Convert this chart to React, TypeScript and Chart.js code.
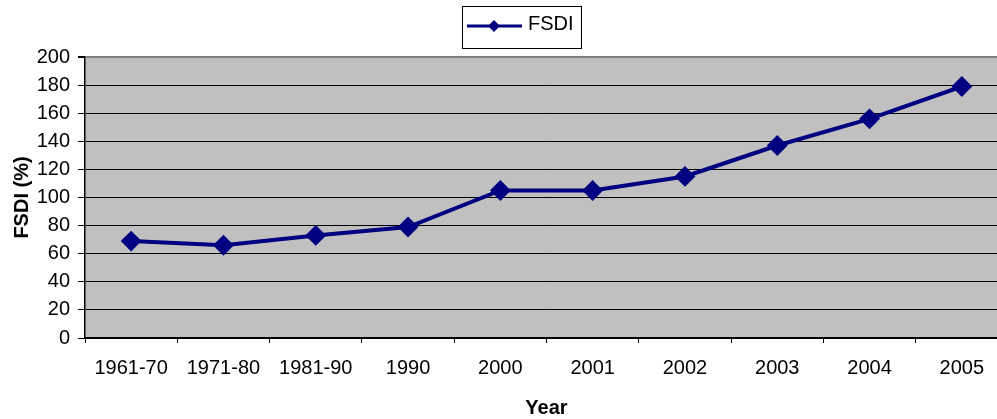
import React, { useEffect, useRef } from "react";
import { Chart, registerables } from "chart.js";

Chart.register(...registerables);

const categories = ["1961-70", "1971-80", "1981-90", "1990", "2000", "2001", "2002", "2003", "2004", "2005"];
const fsdiValues = [69, 66, 73, 79, 105, 105, 115, 137, 156, 179];
const seriesLabel = "FSDI";
const yTicks = { min: 0, max: 200, step: 20 };
const xTitle = "Year";
const yTitle = "FSDI (%)";

const FONT = "'Liberation Sans', Arial, sans-serif";
const NAVY = "#000080";

const bgPlugin = {
  id: "plotBg",
  beforeDraw(chart: any) {
    const { ctx, chartArea } = chart;
    ctx.save();
    ctx.fillStyle = "#C0C0C0";
    ctx.fillRect(chartArea.left, chartArea.top, chartArea.right - chartArea.left, chartArea.bottom - chartArea.top);
    ctx.restore();
  },
};

const legendPlugin = {
  id: "boxLegend",
  afterDraw(chart: any) {
    const { ctx } = chart;
    const ds = chart.data.datasets[0];
    ctx.save();
    const bx = 462.5, by = 6.5, bw = 119, bh = 42;
    ctx.fillStyle = "#fff";
    ctx.fillRect(bx, by, bw, bh);
    ctx.strokeStyle = "#000";
    ctx.lineWidth = 1;
    ctx.strokeRect(bx, by, bw, bh);
    const ly = 26;
    ctx.strokeStyle = ds.borderColor;
    ctx.lineWidth = 3;
    ctx.beginPath();
    ctx.moveTo(467, ly);
    ctx.lineTo(522, ly);
    ctx.stroke();
    ctx.fillStyle = ds.borderColor;
    const r = 6;
    const cx = 494;
    ctx.beginPath();
    ctx.moveTo(cx - r, ly);
    ctx.lineTo(cx, ly - r);
    ctx.lineTo(cx + r, ly);
    ctx.lineTo(cx, ly + r);
    ctx.closePath();
    ctx.fill();
    ctx.fillStyle = "#000";
    ctx.font = `20px ${FONT}`;
    ctx.textBaseline = "middle";
    ctx.textAlign = "left";
    ctx.fillText(ds.label, 528, 24);
    ctx.restore();
  },
};

export default function App() {
  const ref = useRef<HTMLCanvasElement>(null);
  useEffect(() => {
    if (!ref.current) return;
    const chart = new Chart(ref.current, {
      type: "line",
      data: {
        labels: categories,
        datasets: [
          {
            label: seriesLabel,
            data: fsdiValues,
            borderColor: NAVY,
            backgroundColor: NAVY,
            borderWidth: 4,
            pointStyle: "rectRot",
            pointRadius: 9,
            pointBorderWidth: 2,
            pointBorderColor: NAVY,
            pointBackgroundColor: NAVY,
            tension: 0,
          },
        ],
      },
      options: {
        responsive: false,
        animation: false,
        devicePixelRatio: 1,
        layout: { padding: { top: 57, left: 0, right: 0, bottom: 0 } },
        plugins: {
          legend: { display: false },
          tooltip: { enabled: false },
        },
        scales: {
          x: {
            type: "category",
            offset: true,
            afterFit(scale: any) {
              scale.height = 81;
            },
            grid: {
              offset: true,
              drawOnChartArea: false,
              drawTicks: true,
              tickLength: 5,
              tickColor: "#000",
            },
            border: { display: true, color: "#000", width: 1.5 },
            ticks: {
              color: "#000",
              font: { family: FONT, size: 20 },
              padding: 13,
              maxRotation: 0,
              autoSkip: false,
            },
            title: {
              display: true,
              text: xTitle,
              color: "#000",
              font: { family: FONT, size: 20, weight: "bold" },
              padding: { top: 0, bottom: -1 },
            },
          },
          y: {
            min: yTicks.min,
            max: yTicks.max,
            afterFit(scale: any) {
              scale.width = 85;
            },
            grid: {
              color: (c: any) => (c.tick && c.tick.value === yTicks.max ? "#808080" : "#000"),
              lineWidth: (c: any) => (c.tick && c.tick.value === yTicks.max ? 2 : 1),
              drawTicks: true,
              tickLength: 7,
              tickColor: "#000",
            },
            border: { display: true, color: "#000", width: 1.5 },
            ticks: {
              stepSize: yTicks.step,
              color: "#000",
              font: { family: FONT, size: 20 },
              padding: 8,
            },
            title: {
              display: true,
              text: yTitle,
              color: "#000",
              font: { family: FONT, size: 20, weight: "bold" },
              padding: { top: 10, bottom: 0 },
            },
          },
        },
      },
      plugins: [bgPlugin, legendPlugin],
    });
    return () => chart.destroy();
  }, []);
  return (
    <div
      style={{
        position: "fixed",
        left: 0,
        top: 0,
        width: 997,
        height: 419,
        overflow: "hidden",
        background: "#fff",
      }}
    >
      <canvas ref={ref} width={1019} height={419} style={{ display: "block", width: 1019, height: 419 }} />
    </div>
  );
}
